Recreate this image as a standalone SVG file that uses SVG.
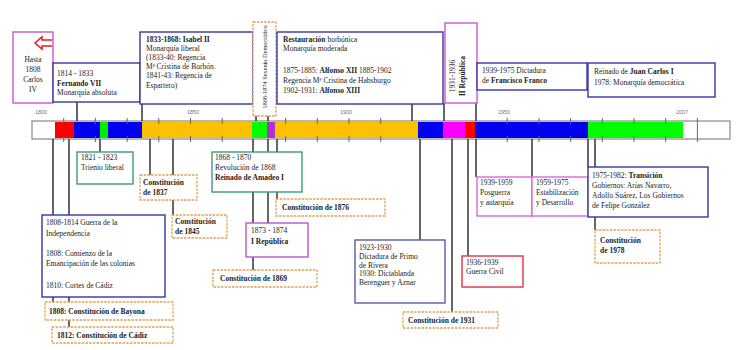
<svg xmlns="http://www.w3.org/2000/svg" width="737" height="350" viewBox="0 0 737 350">
<style>
text{font-family:"Liberation Serif","Times New Roman",serif;font-size:7.5px;fill:#222}
.b{font-weight:bold}
.tl{font-family:"Liberation Sans",Arial,sans-serif;font-size:5.5px;fill:#777;text-anchor:middle}
.box{fill:#fff;stroke-width:1.4}
.blue{stroke:#3535a5}
.teal{stroke:#3d9a80}
.pink{stroke:#cc55cc}
.red{stroke:#dd3344}
.tan{stroke:#e0a050;stroke-dasharray:2.5 1.2;stroke-width:1.3}
.con line{stroke:#333;stroke-width:1.5}
.tick line{stroke:#666;stroke-width:1}
</style>
<rect width="737" height="350" fill="#fff"/>

<!-- timeline bar -->
<g id="timeline">
<rect x="32" y="121" width="698" height="18" fill="#fff" stroke="#888" stroke-width="1.2"/>
<rect x="55" y="122" width="19" height="16" fill="#ff0000"/>
<rect x="74" y="122" width="26" height="16" fill="#0000ee"/>
<rect x="100" y="122" width="8" height="16" fill="#00ee00"/>
<rect x="108" y="122" width="34" height="16" fill="#0000ee"/>
<rect x="142" y="122" width="110" height="16" fill="#ffc000"/>
<rect x="252" y="122" width="15" height="16" fill="#00ff00"/>
<rect x="267" y="122" width="8" height="16" fill="#b030d0"/>
<rect x="275" y="122" width="143" height="16" fill="#ffc000"/>
<rect x="418" y="122" width="25" height="16" fill="#0000ee"/>
<rect x="443" y="122" width="22" height="16" fill="#ff00ff"/>
<rect x="465" y="122" width="10" height="16" fill="#ff0000"/>
<rect x="475" y="122" width="113" height="16" fill="#0000ee"/>
<rect x="588" y="122" width="95" height="16" fill="#00ff00"/>
<g class="tick">
<line x1="63.7" y1="118" x2="63.7" y2="124"/><line x1="63.7" y1="136" x2="63.7" y2="142"/>
<line x1="95.4" y1="118" x2="95.4" y2="124"/><line x1="95.4" y1="136" x2="95.4" y2="142"/>
<line x1="127.1" y1="118" x2="127.1" y2="124"/><line x1="127.1" y1="136" x2="127.1" y2="142"/>
<line x1="158.8" y1="118" x2="158.8" y2="124"/><line x1="158.8" y1="136" x2="158.8" y2="142"/>
<line x1="190.5" y1="118" x2="190.5" y2="124"/><line x1="190.5" y1="136" x2="190.5" y2="142"/>
<line x1="222.2" y1="118" x2="222.2" y2="124"/><line x1="222.2" y1="136" x2="222.2" y2="142"/>
<line x1="285.6" y1="118" x2="285.6" y2="124"/><line x1="285.6" y1="136" x2="285.6" y2="142"/>
<line x1="317.3" y1="118" x2="317.3" y2="124"/><line x1="317.3" y1="136" x2="317.3" y2="142"/>
<line x1="349" y1="118" x2="349" y2="124"/><line x1="349" y1="136" x2="349" y2="142"/>
<line x1="380.7" y1="118" x2="380.7" y2="124"/><line x1="380.7" y1="136" x2="380.7" y2="142"/>
<line x1="507.2" y1="118" x2="507.2" y2="124"/><line x1="507.2" y1="136" x2="507.2" y2="142"/>
<line x1="538.9" y1="118" x2="538.9" y2="124"/><line x1="538.9" y1="136" x2="538.9" y2="142"/>
<line x1="570.6" y1="118" x2="570.6" y2="124"/><line x1="570.6" y1="136" x2="570.6" y2="142"/>
<line x1="602.3" y1="118" x2="602.3" y2="124"/><line x1="602.3" y1="136" x2="602.3" y2="142"/>
<line x1="634" y1="118" x2="634" y2="124"/><line x1="634" y1="136" x2="634" y2="142"/>
<line x1="665.7" y1="118" x2="665.7" y2="124"/><line x1="665.7" y1="136" x2="665.7" y2="142"/>
<line x1="697.4" y1="118" x2="697.4" y2="142" stroke="#444" stroke-width="1.5"/>
</g>
<text class="tl" x="41" y="114">1800</text>
<text class="tl" x="193" y="114">1850</text>
<text class="tl" x="346" y="114">1900</text>
<text class="tl" x="504" y="114">1950</text>
<text class="tl" x="682" y="114">2007</text>
</g>

<!-- connectors -->
<g id="connectors" class="con">
<line x1="77" y1="102" x2="77" y2="121"/>
<line x1="142" y1="104" x2="142" y2="121"/>
<line x1="256" y1="116" x2="256" y2="121"/>
<line x1="268" y1="116" x2="268" y2="121"/>
<line x1="412" y1="104" x2="412" y2="121"/>
<line x1="444" y1="103" x2="444" y2="121"/>
<line x1="476" y1="90" x2="476" y2="121"/>
<line x1="53" y1="139" x2="53" y2="302"/>
<line x1="69" y1="139" x2="69" y2="327"/>
<line x1="100" y1="139" x2="100" y2="152"/>
<line x1="150" y1="139" x2="150" y2="175"/>
<line x1="173" y1="139" x2="173" y2="215"/>
<line x1="253" y1="139" x2="253" y2="270"/>
<line x1="268" y1="139" x2="268" y2="223"/>
<line x1="277" y1="139" x2="277" y2="199"/>
<line x1="420" y1="139" x2="420" y2="240"/>
<line x1="452" y1="139" x2="452" y2="312"/>
<line x1="468" y1="139" x2="468" y2="256"/>
<line x1="476" y1="139" x2="476" y2="177"/>
<line x1="532" y1="139" x2="532" y2="177"/>
<line x1="588" y1="139" x2="588" y2="167"/>
<line x1="595" y1="139" x2="595" y2="230"/>
</g>

<!-- top nodes -->
<g id="carlos4">
<rect class="box pink" x="13" y="32" width="40" height="71"/>
<path d="M52 40 H42 V37 L35 43 L42 49 V46 H52" fill="#fff" stroke="#e02020" stroke-width="1.5"/>
<text x="33" y="62" text-anchor="middle">Hasta</text>
<text x="33" y="72" text-anchor="middle">1808</text>
<text x="33" y="82" text-anchor="middle">Carlos</text>
<text x="33" y="92" text-anchor="middle">IV</text>
</g>
<g id="fernando7">
<rect class="box blue" x="53" y="63" width="87" height="39" stroke-width="1"/>
<text x="57" y="76">1814 - 1833</text>
<text x="57" y="86" class="b">Fernando VII</text>
<text x="57" y="95">Monarquía absoluta</text>
</g>
<g id="isabel2">
<rect class="box blue" x="140" y="32" width="113" height="72"/>
<text x="146" y="42" class="b">1833-1868: Isabel II</text>
<text x="146" y="51">Monarquía liberal</text>
<text x="146" y="60">(1833-40: Regencia</text>
<text x="146" y="69">Mª Cristina de Borbón.</text>
<text x="146" y="78">1841-43: Regencia de</text>
<text x="146" y="88">Espartero)</text>
</g>
<g id="sexenio">
<rect class="box tan" x="253" y="22" width="23" height="94"/>
<text transform="translate(267,67) rotate(-90)" text-anchor="middle" style="font-size:6.3px">1868-1874 Sexenio Democrático</text>
</g>
<g id="restauracion">
<rect class="box blue" x="277" y="32" width="166" height="72"/>
<text x="283" y="42"><tspan class="b">Restauración</tspan> borbónica</text>
<text x="283" y="51">Monarquía moderada</text>
<text x="283" y="73">1875-1885: <tspan class="b">Alfonso XII</tspan> 1885-1902</text>
<text x="283" y="83">Regencia Mª Cristina de Habsburgo</text>
<text x="283" y="93">1902-1931: <tspan class="b">Alfonso XIII</tspan></text>
</g>
<g id="republica2">
<rect class="box pink" x="445" y="23" width="32" height="80"/>
<text transform="translate(455,76) rotate(-90)" text-anchor="middle">1931-1936</text>
<text transform="translate(465,76) rotate(-90)" text-anchor="middle" class="b">II República</text>
</g>
<g id="franco">
<rect class="box blue" x="477" y="63" width="110" height="27" stroke-width="1"/>
<text x="482" y="73">1939-1975 Dictadura</text>
<text x="482" y="83">de <tspan class="b">Francisco Franco</tspan></text>
</g>
<g id="juancarlos">
<rect class="box blue" x="588" y="63" width="127" height="34" stroke-width="2"/>
<text x="594" y="74">Reinado de <tspan class="b">Juan Carlos I</tspan></text>
<text x="594" y="85">1978: Monarquía democrática</text>
</g>

<!-- bottom nodes -->
<g id="trienio">
<rect class="box teal" x="77" y="152" width="56" height="32"/>
<text x="81" y="160">1821 - 1823</text>
<text x="81" y="170">Trienio liberal</text>
</g>
<g id="c1837">
<rect class="box tan" x="140" y="175" width="57" height="25"/>
<text x="143" y="185" class="b">Constitución</text>
<text x="143" y="195" class="b">de 1837</text>
</g>
<g id="c1845">
<rect class="box tan" x="172" y="215" width="55" height="23"/>
<text x="175" y="224" class="b">Constitución</text>
<text x="175" y="234" class="b">de 1845</text>
</g>
<g id="independencia">
<rect class="box blue" x="42" y="215" width="123" height="82"/>
<text x="46" y="225">1808-1814 Guerra de la</text>
<text x="46" y="236">Independencia</text>
<text x="46" y="256">1808: Comienzo de la</text>
<text x="46" y="266">Emancipación de las colonias</text>
<text x="46" y="288">1810: Cortes de Cádiz</text>
</g>
<g id="bayona">
<rect class="box tan" x="45" y="302" width="128" height="18"/>
<text x="49" y="314" class="b">1808: Constitución de Bayona</text>
</g>
<g id="cadiz">
<rect class="box tan" x="52" y="327" width="121" height="16"/>
<text x="57" y="338" class="b">1812: Constitución de Cádiz</text>
</g>
<g id="amadeo">
<rect class="box teal" x="212" y="152" width="90" height="40"/>
<text x="215" y="160">1868 - 1870</text>
<text x="215" y="170">Revolución de 1868</text>
<text x="215" y="180" class="b">Reinado de Amadeo I</text>
</g>
<g id="c1876">
<rect class="box tan" x="276" y="199" width="109" height="17"/>
<text x="282" y="210" class="b">Constitución de 1876</text>
</g>
<g id="republica1">
<rect class="box" stroke="#bb55cc" x="246" y="223" width="62" height="34"/>
<text x="251" y="233">1873 - 1874</text>
<text x="251" y="244" class="b">I República</text>
</g>
<g id="c1869">
<rect class="box tan" x="213" y="270" width="104" height="17"/>
<text x="220" y="281" class="b">Constitución de 1869</text>
</g>
<g id="primo">
<rect class="box" stroke="#5a5aaa" x="355" y="240" width="90" height="63"/>
<text x="359" y="250">1923-1930</text>
<text x="359" y="259">Dictadura de Primo</text>
<text x="359" y="267.5">de Rivera</text>
<text x="359" y="276">1930: Dictablanda</text>
<text x="359" y="285">Berenguer y Aznar</text>
</g>
<g id="c1931">
<rect class="box tan" x="403" y="312" width="95" height="16"/>
<text x="408" y="323" class="b">Constitución de 1931</text>
</g>
<g id="guerracivil">
<rect class="box red" x="462" y="256" width="61" height="31"/>
<text x="466" y="265">1936-1939</text>
<text x="466" y="274">Guerra Civil</text>
</g>
<g id="posguerra">
<rect class="box" stroke="#dd66dd" x="477" y="177" width="55" height="39"/>
<text x="480" y="185">1939-1959</text>
<text x="480" y="195">Posguerra</text>
<text x="480" y="205">y autarquía</text>
</g>
<g id="desarrollo">
<rect class="box" stroke="#dd66dd" x="532" y="177" width="56" height="39"/>
<text x="536" y="185">1959-1975</text>
<text x="536" y="195">Estabilización</text>
<text x="536" y="205">y Desarrollo</text>
</g>
<g id="transicion">
<rect class="box blue" x="588" y="167" width="120" height="50" stroke-width="2"/>
<text x="592" y="178">1975-1982: <tspan class="b">Transición</tspan></text>
<text x="592" y="188">Gobiernos: Arias Navarro,</text>
<text x="592" y="198">Adolfo Suárez, Los Gobiernos</text>
<text x="592" y="208">de Felipe González</text>
</g>
<g id="c1978">
<rect class="box tan" x="595" y="230" width="65" height="33"/>
<text x="600" y="243" class="b">Constitución</text>
<text x="600" y="253" class="b">de 1978</text>
</g>
</svg>
